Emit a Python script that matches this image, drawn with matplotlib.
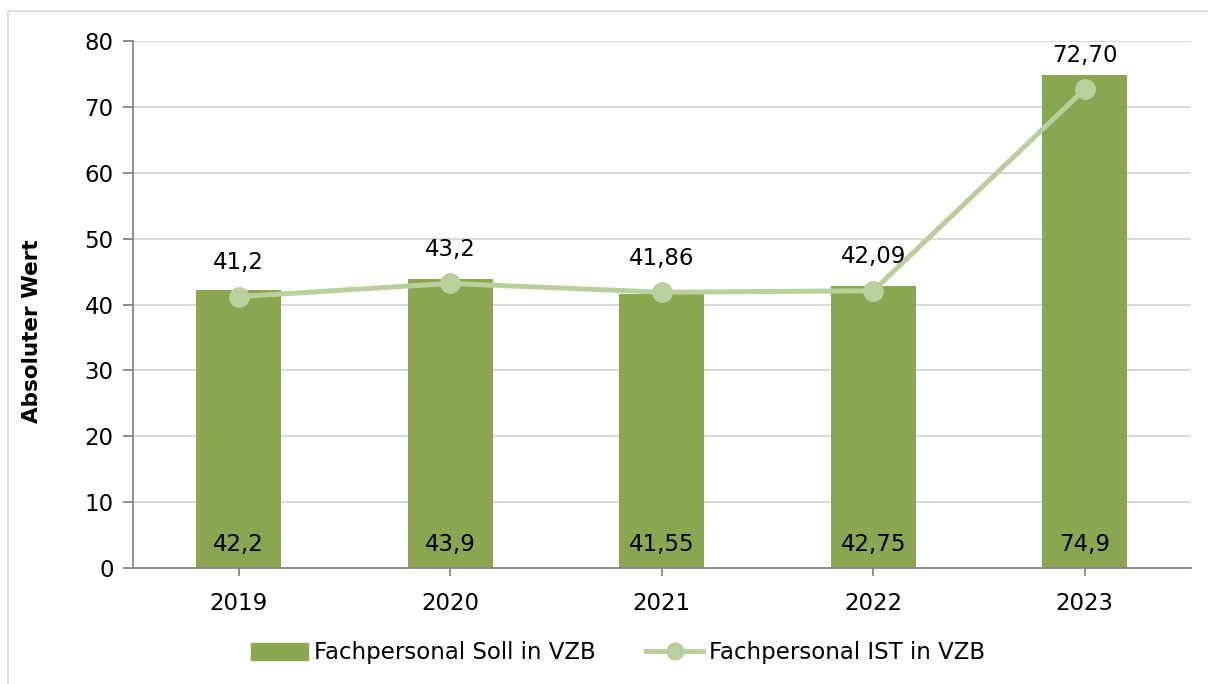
import matplotlib
matplotlib.use("Agg")
import matplotlib.pyplot as plt
from matplotlib.patches import Rectangle
from matplotlib.lines import Line2D
from matplotlib.patches import Patch

years = ["2019", "2020", "2021", "2022", "2023"]
soll = [42.2, 43.9, 41.55, 42.75, 74.9]
ist = [41.2, 43.2, 41.86, 42.09, 72.70]
soll_labels = ["42,2", "43,9", "41,55", "42,75", "74,9"]
ist_labels = ["41,2", "43,2", "41,86", "42,09", "72,70"]
yticks = [0, 10, 20, 30, 40, 50, 60, 70, 80]

plt.rcParams['font.family'] = ['DejaVu Sans']
W, H = 1208, 684
fig = plt.figure(figsize=(W/100, H/100), dpi=100)
fig.patch.set_facecolor("white")

# outer border
fig.patches.append(Rectangle((8/W, -0.1), 1.2, 1 - 11/H + 0.1, transform=fig.transFigure,
                             fill=False, edgecolor="#d9d9d9", linewidth=1.2))

ax = fig.add_axes([133/W, 1 - 568/H, (1190.5-133)/W, (568-41)/H])
x = list(range(len(years)))
bar_c = "#8aa650"
line_c = "#bad09c"
fs = 16.5

ax.set_axisbelow(True)
ax.yaxis.grid(True, color="#d9d9d9", linewidth=1.4)
ax.bar(x, soll, width=0.40, color=bar_c, zorder=2)
ax.plot(x, ist, color=line_c, linewidth=3.6, marker="o", markersize=14,
        markerfacecolor=line_c, markeredgecolor=line_c, zorder=3)

for i in x:
    ax.annotate(soll_labels[i], (i, 0), xytext=(0, 23), textcoords="offset pixels",
                ha="center", va="center", fontsize=fs, color="black", zorder=4)
    ax.annotate(ist_labels[i], (i, ist[i]), xytext=(0, 34), textcoords="offset pixels",
                ha="center", va="center", fontsize=fs, color="black", zorder=4)

ax.set_xlim(-0.5, 4.5)
ax.set_ylim(0, 80)
ax.set_yticks(yticks)
ax.set_yticklabels([str(v) for v in yticks], fontsize=fs)
ax.set_xticks(x)
ax.set_xticklabels(years, fontsize=fs)
for s in ["top", "right"]:
    ax.spines[s].set_visible(False)
for s in ["left", "bottom"]:
    ax.spines[s].set_color("#868686")
    ax.spines[s].set_linewidth(1.3)
ax.tick_params(axis="y", length=7, width=1.3, color="#868686", pad=7)
ax.tick_params(axis="x", length=6, width=1.3, color="#868686", pad=11)

fig.text(32/W, 1 - 331/H, "Absoluter Wert", rotation=90, ha="center", va="center",
         fontsize=15.5, fontweight="bold")

handles = [Patch(facecolor=bar_c, edgecolor=bar_c),
           Line2D([0], [0], color=line_c, linewidth=3.6, marker="o", markersize=12)]
leg = fig.legend(handles, ["Fachpersonal Soll in VZB", "Fachpersonal IST in VZB"],
                 loc="center", bbox_to_anchor=(618/W, 1 - 653/H), ncol=2, frameon=False,
                 fontsize=fs, handlelength=2.5, handletextpad=0.25, columnspacing=2.2,
                 handleheight=0.7)

fig.savefig("out.png", dpi=100)
